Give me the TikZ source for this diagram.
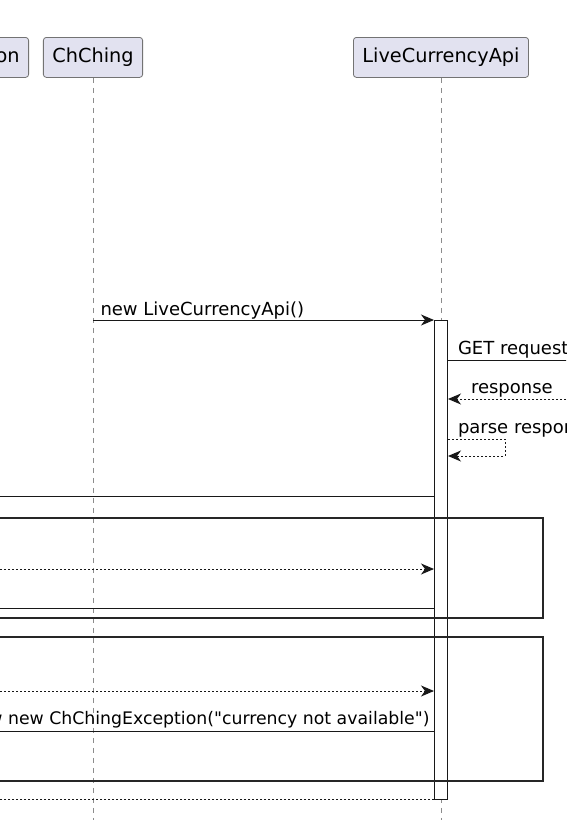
\documentclass[tikz,border=0pt]{standalone}
\usepackage{fontspec}
\setmainfont{DejaVu Sans}[Ligatures=TeXOff]
\usetikzlibrary{positioning,arrows.meta,calc}
\definecolor{sqLavender}{RGB}{226,226,240}
\definecolor{sqLine}{RGB}{24,24,24}
\definecolor{sqGray}{RGB}{140,140,140}
\tikzset{
    participant/.style={rectangle, rounded corners=3pt, draw=black!55, line width=0.8pt,
                        fill=sqLavender, font=\fontsize{19.3}{23}\selectfont,
                        minimum height=40pt, inner xsep=9pt},
    lifeline/.style={draw=sqGray, line width=0.8pt, dash pattern=on 5pt off 5pt},
    actbar/.style={rectangle, draw=sqLine, line width=1pt, fill=white,
                   minimum width=13pt, inner sep=0pt},
    frame/.style={draw=black!85, line width=2pt},
    msg/.style={-{Stealth[length=13pt, width=11pt, inset=4pt]}, draw=sqLine, line width=1pt},
    reply/.style={msg, dash pattern=on 2pt off 2pt},
    label/.style={font=\fontsize{18}{22}\selectfont, inner sep=0pt}
}
\begin{document}
\begin{tikzpicture}[x=1pt, y=-1pt]
  \useasboundingbox (0,0) rectangle (566,820);
  \clip (0,0) rectangle (566,820);

  % Rows
  \coordinate (bottom) at (0,830);
  \coordinate (farL) at (-20,0);
  \coordinate (farR) at (586,0);
  \coordinate (loopR) at (505,0);
  \coordinate (rNew) at (0,320);
  \coordinate (rGet) at (0,360);
  \coordinate (rResp) at (0,399);
  \coordinate (rParseA) at (0,439);
  \coordinate (rParseB) at (0,456);
  \coordinate (rOut1) at (0,496);
  \coordinate (rIn1) at (0,569);
  \coordinate (rOut2) at (0,608);
  \coordinate (rIn2) at (0,691);
  \coordinate (rThrow) at (0,731);
  \coordinate (rEnd) at (0,799);

  % Participants
  \node[participant, anchor=north east, text width=40pt, align=right] (conv) at (29,37) {on};
  \node[participant, anchor=north] (chching) at (93,37) {ChChing};
  \node[participant, anchor=north] (api) at (441,37) {LiveCurrencyApi};

  % Lifelines
  \draw[lifeline] (chching) -- (chching |- bottom);
  \draw[lifeline] (api) -- (api |- bottom);

  % Activation
  \node[actbar, anchor=north, minimum height=479pt] (act) at (441,320) {};

  % Frames
  \draw[frame] (-20,518) rectangle (543,618);
  \draw[frame] (-20,637) rectangle (543,781);

  % Messages
  \draw[msg] (chching |- rNew) -- node[label, at start, anchor=base west, xshift=7pt, yshift=5pt] {new LiveCurrencyApi()} (act.west |- rNew);
  \draw[msg] (act.east |- rGet) -- node[label, at start, anchor=base west, xshift=9.5pt, yshift=5.5pt] {GET request} (farR |- rGet);
  \draw[reply] (farR |- rResp) -- node[label, at end, anchor=base west, xshift=22.5pt, yshift=5.5pt] {response} (act.east |- rResp);
  \draw[reply] (act.east |- rParseA) node[label, anchor=base west, xshift=9.5pt, yshift=6pt] {parse response}
    -- (loopR |- rParseA) -- (loopR |- rParseB) -- (act.east |- rParseB);

  \draw[msg] (act.west |- rOut1) -- (farL |- rOut1);
  \draw[reply] (farL |- rIn1) -- (act.west |- rIn1);
  \draw[msg] (act.west |- rOut2) -- (farL |- rOut2);
  \draw[reply] (farL |- rIn2) -- (act.west |- rIn2);
  \draw[msg] (act.west |- rThrow) node[label, font=\fontsize{17.3}{21}\selectfont, anchor=base east, xshift=-4pt, yshift=7pt] {throw new ChChingException("currency not available")} -- (farL |- rThrow);
  \draw[reply] (act.west |- rEnd) -- (farL |- rEnd);

\end{tikzpicture}
\end{document}
